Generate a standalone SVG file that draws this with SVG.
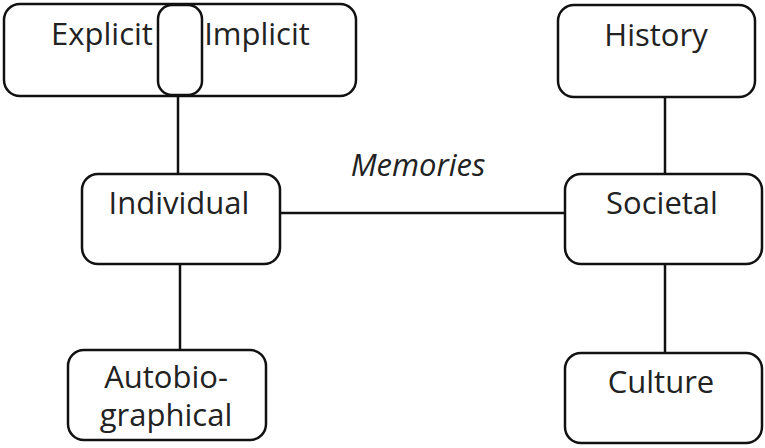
<svg xmlns="http://www.w3.org/2000/svg" width="765" height="448" viewBox="0 0 765 448">
<style>
.box{fill:#fff;stroke:#111;stroke-width:2.5}
.lbl{font-family:"Open Sans","Liberation Sans",sans-serif;font-size:31px;fill:#222;text-anchor:middle}
.con{stroke:#111;stroke-width:2.5;fill:none}
</style>
<rect width="765" height="448" fill="#fff"/>
<g id="connectors">
<line class="con" x1="178" y1="96" x2="178" y2="174"/>
<line class="con" x1="180" y1="264" x2="180" y2="350"/>
<line class="con" x1="280" y1="213" x2="565" y2="213"/>
<line class="con" x1="665" y1="97" x2="665" y2="174"/>
<line class="con" x1="665" y1="264" x2="665" y2="353"/>
</g>
<g id="explicit-implicit">
<rect class="box" x="4" y="4" width="352" height="92" rx="16"/>
<text class="lbl" x="102" y="45">Explicit</text>
<text class="lbl" x="257" y="45">Implicit</text>
<rect class="box" x="158" y="5" width="44" height="90" rx="14" style="fill:none"/>
</g>
<g id="history">
<rect class="box" x="558" y="5" width="197" height="92" rx="16"/>
<text class="lbl" x="656" y="46">History</text>
</g>
<g id="individual">
<rect class="box" x="82" y="174" width="198" height="90" rx="16"/>
<text class="lbl" x="179" y="214">Individual</text>
</g>
<g id="societal">
<rect class="box" x="565" y="174" width="197" height="90" rx="16"/>
<text class="lbl" x="662" y="214">Societal</text>
</g>
<g id="autobiographical">
<rect class="box" x="68" y="350" width="198" height="90" rx="16"/>
<text class="lbl" x="166" y="388" font-size="29">Autobio-</text>
<text class="lbl" x="166" y="426" font-size="29">graphical</text>
</g>
<g id="culture">
<rect class="box" x="565" y="353" width="197" height="90" rx="16"/>
<text class="lbl" x="661" y="393">Culture</text>
</g>
<g id="memories-label">
<text class="lbl" x="418" y="176" font-style="italic" font-size="32">Memories</text>
</g>
</svg>
